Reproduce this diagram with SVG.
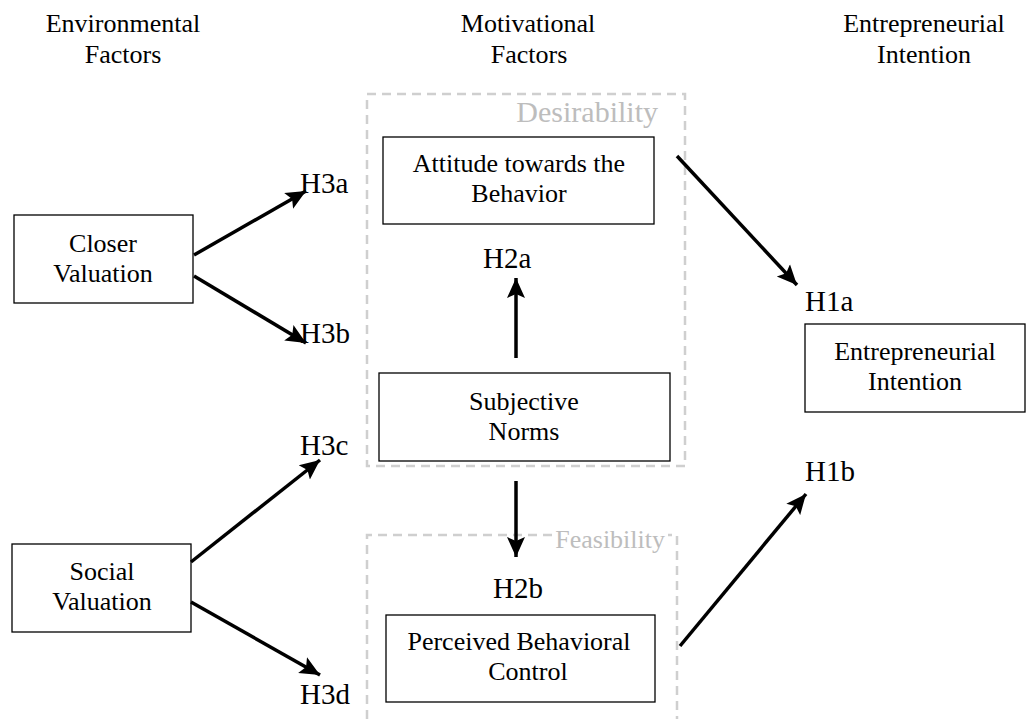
<svg xmlns="http://www.w3.org/2000/svg" width="1026" height="719" viewBox="0 0 1026 719">
<style>
text{font-family:"Liberation Serif","Times New Roman",serif;fill:#000}
.hdr{font-size:26px;text-anchor:middle}
.lbl{font-size:26px;text-anchor:middle}
.h{font-size:29px}
.grp{font-size:30px;fill:#bdbdbd;text-anchor:end}
.box{fill:#fff;stroke:#000;stroke-width:1.3}
.dash{fill:none;stroke:#cfcfcf;stroke-width:2.5;stroke-dasharray:9 6}
.arr{stroke:#000;stroke-width:3.5;fill:none;marker-end:url(#ah)}
</style>
<defs>
<marker id="ah" markerUnits="userSpaceOnUse" markerWidth="22" markerHeight="20" viewBox="0 0 22 20" refX="20" refY="10" orient="auto">
<path d="M0,1 L20,10 L0,19 L4,10 Z" fill="#000"/>
</marker>
</defs>
<rect width="1026" height="719" fill="#fff"/>
<g id="headers">
<text class="hdr" x="123" y="32">Environmental</text>
<text class="hdr" x="123" y="63">Factors</text>
<text class="hdr" x="528" y="32">Motivational</text>
<text class="hdr" x="529" y="63">Factors</text>
<text class="hdr" x="924" y="32">Entrepreneurial</text>
<text class="hdr" x="924" y="63">Intention</text>
</g>
<g id="desirability">
<rect class="dash" x="367" y="94" width="318" height="372"/>
<text class="grp" x="658" y="122">Desirability</text>
</g>
<g id="feasibility">
<path class="dash" d="M367,719 L367,535 L677,535 L677,719"/>
<rect x="558" y="526" width="110" height="26" fill="#fff"/>
<text class="grp" x="665" y="548" style="font-size:26px">Feasibility</text>
</g>
<g id="closer">
<rect class="box" x="14" y="215" width="179" height="88"/>
<text class="lbl" x="103" y="252">Closer</text>
<text class="lbl" x="103" y="282">Valuation</text>
</g>
<g id="social">
<rect class="box" x="12" y="544" width="179" height="88"/>
<text class="lbl" x="102" y="580">Social</text>
<text class="lbl" x="102" y="610">Valuation</text>
</g>
<g id="attitude">
<rect class="box" x="383" y="137" width="271" height="87"/>
<text class="lbl" x="519" y="172">Attitude towards the</text>
<text class="lbl" x="519" y="202">Behavior</text>
</g>
<g id="subjective">
<rect class="box" x="379" y="373" width="291" height="88"/>
<text class="lbl" x="524" y="410">Subjective</text>
<text class="lbl" x="524" y="440">Norms</text>
</g>
<g id="pbc">
<rect class="box" x="386" y="615" width="269" height="87"/>
<text class="lbl" x="519" y="650">Perceived Behavioral</text>
<text class="lbl" x="528" y="680">Control</text>
</g>
<g id="intention">
<rect class="box" x="805" y="324" width="220" height="88"/>
<text class="lbl" x="915" y="360">Entrepreneurial</text>
<text class="lbl" x="915" y="390">Intention</text>
</g>
<g id="hypotheses">
<text class="h" x="300" y="193">H3a</text>
<text class="h" x="300" y="343">H3b</text>
<text class="h" x="300" y="455">H3c</text>
<text class="h" x="300" y="704">H3d</text>
<text class="h" x="483" y="268">H2a</text>
<text class="h" x="493" y="598">H2b</text>
<text class="h" x="805" y="311">H1a</text>
<text class="h" x="805" y="481">H1b</text>
</g>
<g id="connectors">
<line class="arr" x1="194" y1="255" x2="306" y2="191"/>
<line class="arr" x1="194" y1="276" x2="306" y2="343"/>
<line class="arr" x1="191" y1="562" x2="320" y2="460"/>
<line class="arr" x1="191" y1="602" x2="320" y2="675"/>
<line class="arr" x1="516" y1="358" x2="516" y2="278"/>
<line class="arr" x1="516" y1="481" x2="516" y2="557"/>
<line class="arr" x1="677" y1="156" x2="797" y2="285"/>
<line class="arr" x1="680" y1="646" x2="806" y2="494"/>
</g>
</svg>
